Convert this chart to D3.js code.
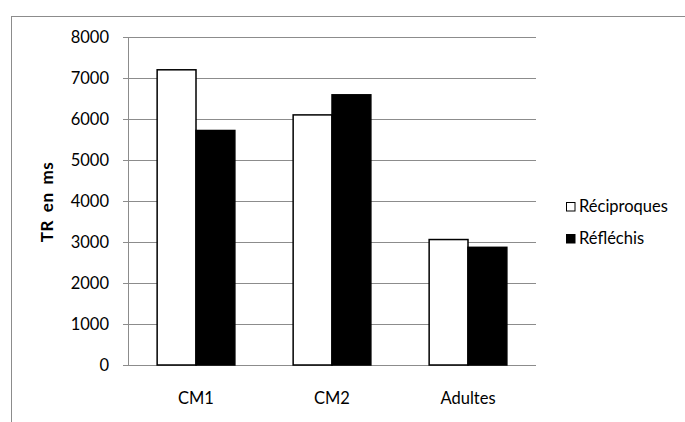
<!DOCTYPE html>
<html><head><meta charset="utf-8">
<script src="https://cdn.jsdelivr.net/npm/d3@7"></script>
<style>body{margin:0;background:#fff}svg{display:block}</style>
</head><body>
<svg id="c" width="685" height="422"></svg>
<script>
const categories = ["CM1", "CM2", "Adultes"];
const seriesNames = ["Réciproques", "Réfléchis"];
const reciproques = [7200, 6100, 3060];
const reflechis = [5720, 6590, 2870];
const yTicks = [0, 1000, 2000, 3000, 4000, 5000, 6000, 7000, 8000];
const yTitle = "TR en ms";

const seriesValues = [reciproques, reflechis];
const fills = ["#ffffff", "#000000"];
const font = "Lato, 'Open Sans', sans-serif";
const fs = 16.5;

const svg = d3.select("#c");
const pLeft = 128, pRight = 536, pTop = 37, pBottom = 365;

svg.append("rect").attr("x", 11.5).attr("y", 16.5).attr("width", 700).attr("height", 440)
  .attr("fill", "none").attr("stroke", "#8c8c8c").attr("stroke-width", 1);

const y = d3.scaleLinear().domain([0, 8000]).range([pBottom, pTop]);
const x = d3.scaleBand().domain(categories).range([pLeft, pRight]).paddingInner(1.5/3.5).paddingOuter(0.75/3.5);
const xs = d3.scaleBand().domain(seriesNames).range([0, x.bandwidth()]);

// gridlines
svg.append("g").selectAll("line").data(yTicks).join("line")
  .attr("x1", pLeft - 5).attr("x2", pRight)
  .attr("y1", d => Math.round(y(d)) + 0.5).attr("y2", d => Math.round(y(d)) + 0.5)
  .attr("stroke", "#8c8c8c").attr("stroke-width", 1);

// y axis line
svg.append("line").attr("x1", pLeft + 0.5).attr("x2", pLeft + 0.5).attr("y1", pTop).attr("y2", pBottom + 0.5)
  .attr("stroke", "#8c8c8c");

// y tick labels
svg.append("g").selectAll("text").data(yTicks).join("text")
  .attr("x", 109).attr("y", d => y(d)).attr("dy", "0.36em")
  .attr("text-anchor", "end").attr("font-family", font).attr("font-size", fs).attr("fill", "#000")
  .text(d => d);

// bars
seriesNames.forEach((s, si) => {
  svg.append("g").selectAll("rect").data(categories).join("rect")
    .attr("x", d => x(d) + xs(s))
    .attr("y", (d, i) => y(seriesValues[si][i]))
    .attr("width", xs.bandwidth())
    .attr("height", (d, i) => y(0) - y(seriesValues[si][i]))
    .attr("fill", fills[si]).attr("stroke", "#000").attr("stroke-width", 1.5);
});

// x labels
svg.append("g").selectAll("text").data(categories).join("text")
  .attr("x", d => x(d) + x.bandwidth() / 2).attr("y", 398).attr("dy", "0.36em")
  .attr("text-anchor", "middle").attr("font-family", font).attr("font-size", fs).attr("fill", "#000")
  .text(d => d);

// y title
svg.append("text").attr("transform", `translate(53,202) rotate(-90)`)
  .attr("text-anchor", "middle").attr("font-family", font).attr("font-size", 17).attr("font-weight", "bold")
  .attr("letter-spacing", 0.6).attr("word-spacing", 3)
  .text(yTitle);

// legend
const lg = svg.append("g").selectAll("g").data(seriesNames).join("g")
  .attr("transform", (d, i) => `translate(566,${202 + i * 32})`);
lg.append("rect").attr("x", 0.5).attr("y", 0.5).attr("width", 8.5).attr("height", 8.5)
  .attr("fill", (d, i) => fills[i]).attr("stroke", "#000").attr("stroke-width", 1);
lg.append("text").attr("x", 13).attr("y", 4.5).attr("dy", "0.36em")
  .attr("font-family", font).attr("font-size", fs).text(d => d);
</script>
</body></html>
